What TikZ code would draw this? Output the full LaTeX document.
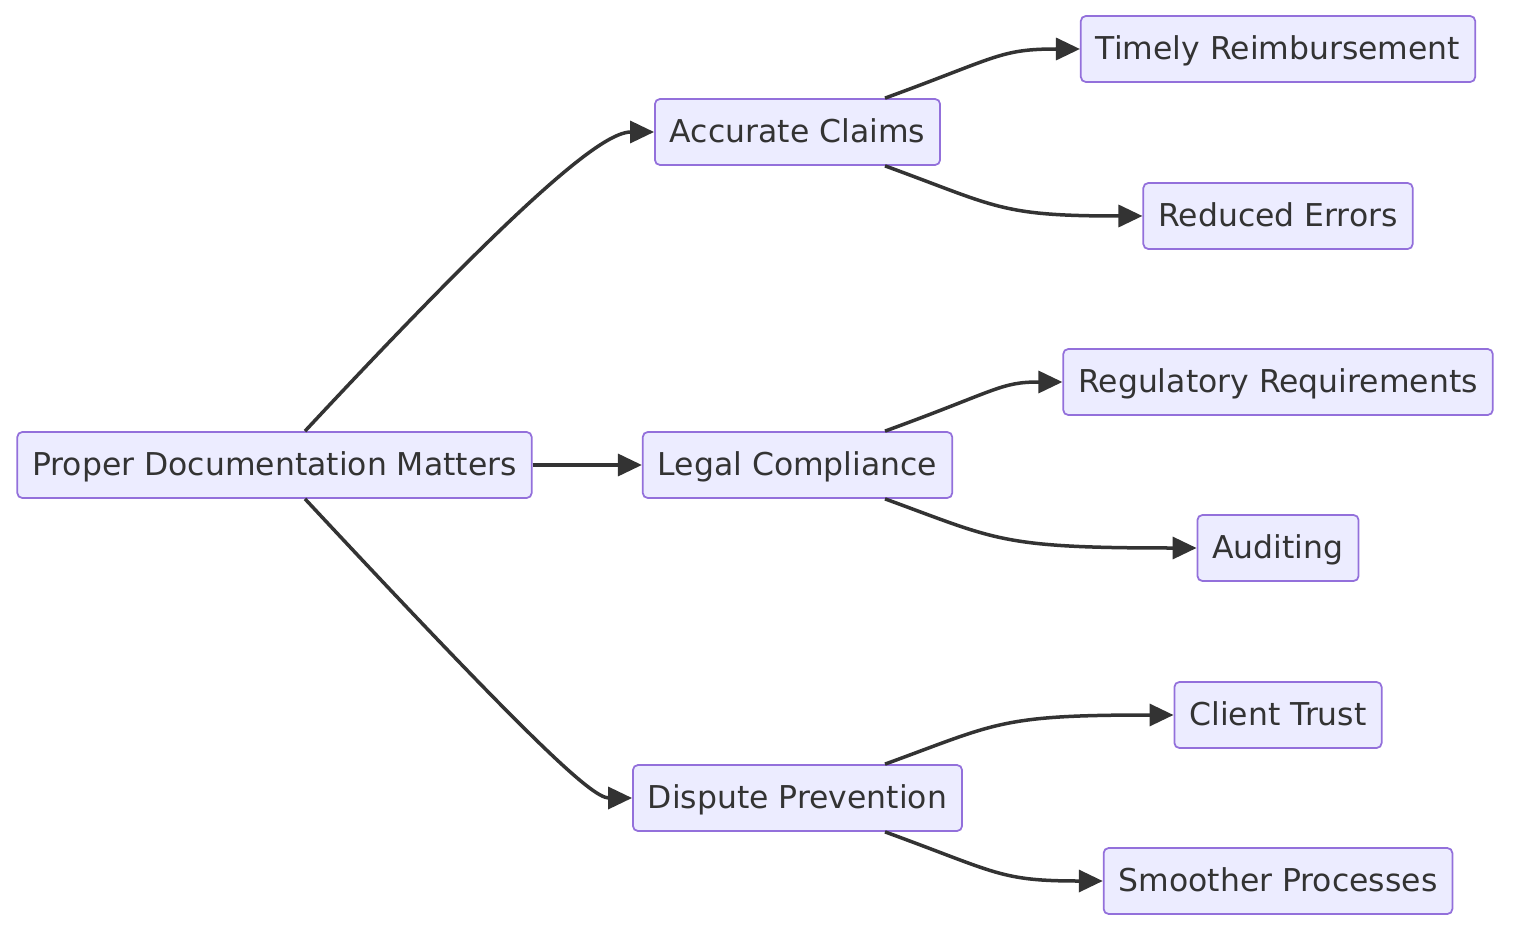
\documentclass[tikz,border=0pt]{standalone}
\usepackage{fontspec}
\setmainfont{DejaVu Sans}
\usetikzlibrary{shapes,arrows.meta,positioning}
\definecolor{boxfill}{HTML}{ECECFF}
\definecolor{boxline}{HTML}{9370DB}
\definecolor{ink}{HTML}{333333}

\begin{document}
\begin{tikzpicture}[auto, node distance=2cm, >={Triangle[length=0.48cm,width=0.44cm]},
        box/.style={draw=boxline, fill=boxfill, rectangle, rounded corners=0.1cm, line width=1pt,
            text=ink, minimum height=1.32cm, inner xsep=0.3cm, text height=0.58cm, text depth=0.15cm,
            font=\fontsize{17.9}{21}\selectfont},
        link/.style={->, draw=ink, line width=0.07cm}]

        \useasboundingbox (0,0) rectangle (30.52,-18.8);

        % Nós
        \node [box] (root) at (5.49,-9.3) {Proper Documentation Matters};
        \node [box, right of=root, node distance=10.46cm] (legal) {Legal Compliance};
        \node [box, above of=legal, node distance=6.66cm] (claims) {Accurate Claims};
        \node [box, below of=legal, node distance=6.66cm] (dispute) {Dispute Prevention};
        \node [box, right of=claims, node distance=9.61cm, yshift=1.66cm] (timely) {Timely Reimbursement};
        \node [box, right of=claims, node distance=9.61cm, yshift=-1.68cm] (errors) {Reduced Errors};
        \node [box, right of=legal, node distance=9.61cm, yshift=1.66cm] (regulatory) {Regulatory Requirements};
        \node [box, right of=legal, node distance=9.61cm, yshift=-1.66cm] (auditing) {Auditing};
        \node [box, right of=dispute, node distance=9.61cm, yshift=1.66cm] (trust) {Client Trust};
        \node [box, right of=dispute, node distance=9.61cm, yshift=-1.66cm] (smoother) {Smoother Processes};

        % Conexões
        \draw [link] ([xshift=0.61cm]root.north) .. controls +(47:6.6) and +(-1.0,0) .. (claims.west);
        \draw [link] (root.east) -- (legal.west);
        \draw [link] ([xshift=0.61cm]root.south) .. controls +(-47:6.6) and +(-0.8,0) .. (dispute.west);

        \draw [link] ([xshift=1.75cm]claims.north) .. controls +(20:2.4) and +(-1.6,0) .. (timely.west);
        \draw [link] ([xshift=1.75cm]claims.south) .. controls +(-20:2.4) and +(-2.86,0) .. (errors.west);
        \draw [link] ([xshift=1.75cm]legal.north) .. controls +(20:2.4) and +(-1.24,0) .. (regulatory.west);
        \draw [link] ([xshift=1.75cm]legal.south) .. controls +(-20:2.4) and +(-3.94,0) .. (auditing.west);
        \draw [link] ([xshift=1.75cm]dispute.north) .. controls +(20:2.4) and +(-3.48,0) .. (trust.west);
        \draw [link] ([xshift=1.75cm]dispute.south) .. controls +(-20:2.4) and +(-2.06,0) .. (smoother.west);

    \end{tikzpicture}
\end{document}
